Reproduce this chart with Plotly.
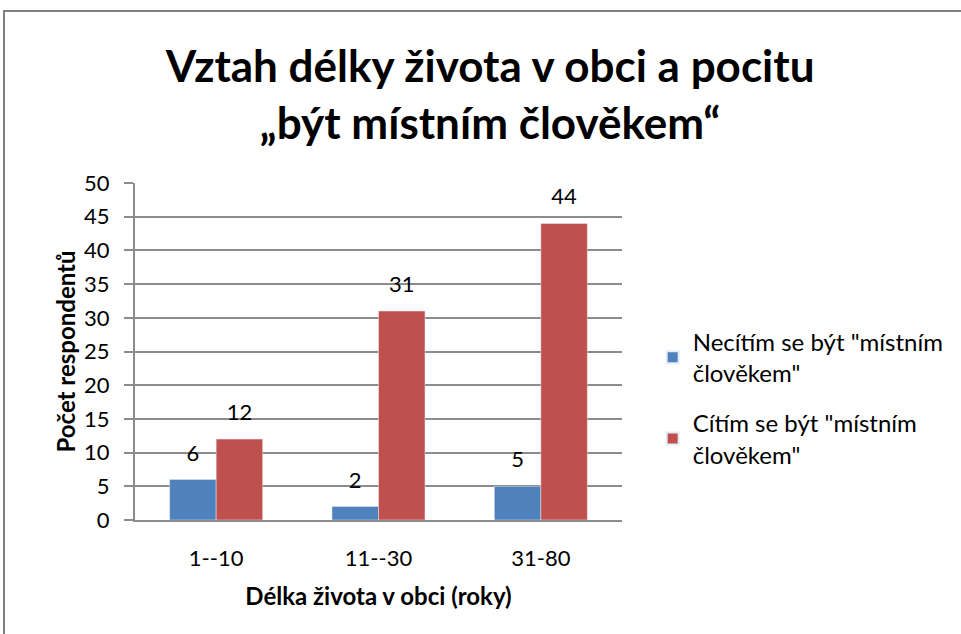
import plotly.graph_objects as go

# data
categories = ['1--10', '11--30', '31-80']
not_local = [6, 2, 5]
local = [12, 31, 44]
series_names = ['Necítím se být "místním<br>člověkem"', 'Cítím se být "místním<br>člověkem"']
y_ticks = [0, 5, 10, 15, 20, 25, 30, 35, 40, 45, 50]

font_family = 'Lato, "Open Sans", sans-serif'
grey = '#8c8c8c'
colors = ['#4F81BD', '#C0504D']

fig = go.Figure()
for i, vals in enumerate([not_local, local]):
    fig.add_trace(go.Bar(x=categories, y=vals, name=series_names[i],
                         marker_color=colors[i], offsetgroup=str(i),
                         legendgroup=str(i)))
# value labels, lifted a bit above the bars like in the original
for i, vals in enumerate([not_local, local]):
    fig.add_trace(go.Scatter(x=categories, y=vals, mode='markers+text', text=vals,
                             textposition='top center', offsetgroup=str(i),
                             marker=dict(size=20, opacity=0), showlegend=False,
                             hoverinfo='skip', cliponaxis=False, legendgroup=str(i),
                             textfont=dict(size=22, color='#000000')))

fig.update_layout(
    width=961, height=634,
    margin=dict(l=135, r=339, t=183, b=114),
    paper_bgcolor='white', plot_bgcolor='white',
    font=dict(family=font_family, size=22, color='#000000'),
    barmode='group', bargap=0.427, bargroupgap=0,
    scattermode='group', scattergap=0.427,
    title=dict(text='<b>Vztah délky života v obci a pocitu<br>„být místním člověkem“</b>',
               x=0.51, xanchor='center', y=1 - 82 / 634, yanchor='middle',
               font=dict(size=44, family=font_family)),
    legend=dict(x=1.063, y=(520 - 398) / 337, xanchor='left', yanchor='middle',
                font=dict(size=24), tracegroupgap=16, itemsizing='constant'),
    showlegend=True,
)

fig.update_xaxes(showline=True, linecolor=grey, linewidth=2, ticks='',
                 tickfont=dict(size=22), ticklabelstandoff=18,
                 title=dict(text='<b>Délka života v obci (roky)</b>', font=dict(size=24), standoff=18))
fig.update_yaxes(range=[0, 50], tickvals=y_ticks, showline=True, linecolor=grey, linewidth=2,
                 gridcolor=grey, gridwidth=1.5, ticks='outside', ticklen=9, tickcolor=grey,
                 tickwidth=2, tickfont=dict(size=22), zeroline=False, ticklabelstandoff=10,
                 title=dict(text='<b>Počet respondentů</b>', font=dict(size=24), standoff=2))

# outer chart frame
fig.add_shape(type='rect', xref='paper', yref='paper',
              x0=(4 - 135) / 487, x1=(970 - 135) / 487,
              y0=(520 - 645) / 337, y1=(520 - 11) / 337,
              line=dict(color='#7f7f7f', width=2), layer='below')

fig.write_html('out.html', config={'displayModeBar': False},
               post_script="document.body.style.margin='0';")
